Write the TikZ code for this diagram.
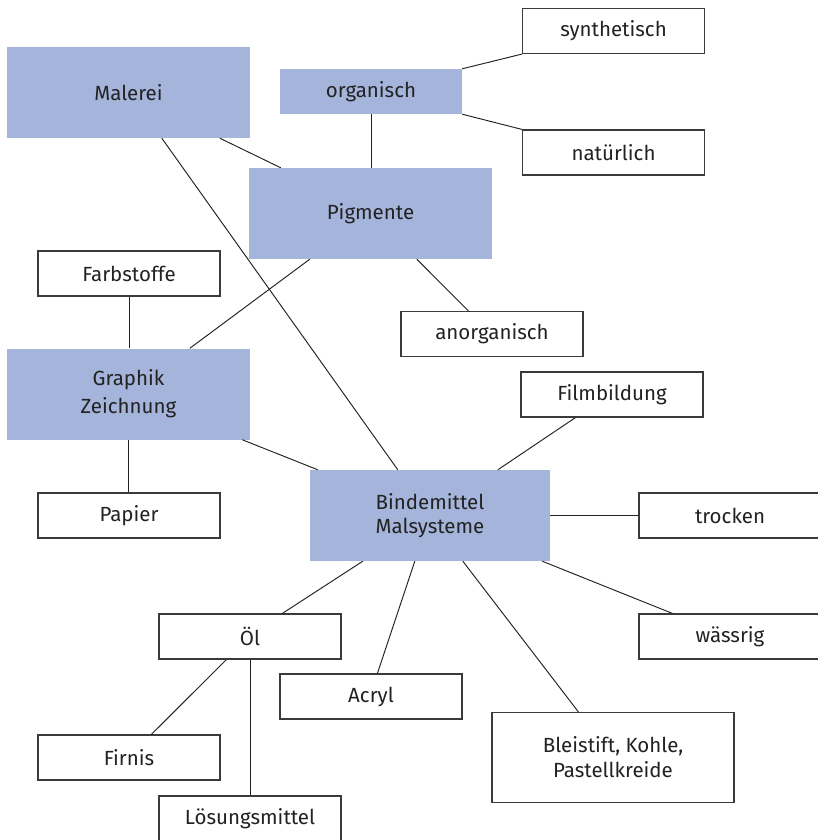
\documentclass[tikz,border=0pt]{standalone}
\usepackage{fontspec}
\setmainfont{Fira Sans}
\definecolor{boxblue}{HTML}{A4B4DA}
\definecolor{txt}{HTML}{222222}
\definecolor{edge}{HTML}{3A3A3A}
\begin{document}
\begin{tikzpicture}[x=1pt,y=-1pt,
  base/.style={rectangle,inner sep=0pt,align=center,text=txt,font=\fontsize{20.5}{24}\selectfont},
  bluebox/.style={base,fill=boxblue,minimum width=243pt,minimum height=91pt},
  orgbox/.style={base,fill=boxblue,minimum width=182pt,minimum height=45pt},
  whitebox/.style={base,draw=edge,line width=1.2pt,fill=white,minimum width=182pt,minimum height=45pt},
  bigwhite/.style={base,draw=edge,line width=1.2pt,fill=white,minimum width=242pt,minimum height=90pt},
  link/.style={draw=txt,line width=0.95pt}]
\useasboundingbox[fill=white] (0,0) rectangle (818,840);
% nodes
\node[bluebox] (mal) at (128.5,92.5) {Malerei};
\node[orgbox]  (org) at (371,91.5) {organisch};
\node[bluebox] (pig) at (370.5,213.5) {Pigmente};
\node[bluebox,font=\fontsize{20.5}{28}\selectfont] (gra) at (128.5,394) {Graphik\\Zeichnung};
\node[bluebox,minimum width=240pt] (bind) at (430,515.5) {Bindemittel\\Malsysteme};
\node[whitebox] (syn) at (613.5,31) {synthetisch};
\node[whitebox] (nat) at (613.5,152.5) {natürlich};
\node[whitebox] (far) at (129,273.5) {Farbstoffe};
\node[whitebox] (ano) at (492,334) {anorganisch};
\node[whitebox] (fil) at (612,394.5) {Filmbildung};
\node[whitebox] (pap) at (129,515.5) {Papier};
\node[whitebox] (tro) at (730,515.5) {trocken};
\node[whitebox] (oel) at (250,636.5) {Öl};
\node[whitebox] (was) at (730,636.5) {wässrig};
\node[whitebox] (acr) at (371,696.5) {Acryl};
\node[whitebox] (fir) at (129,757.5) {Firnis};
\node[bigwhite,font=\fontsize{20.5}{25}\selectfont] (ble) at (613,757.5) {Bleistift, Kohle,\\Pastellkreide};
\node[whitebox] (los) at (250,818.5) {Lösungsmittel};
% connectors
\path[link] ([xshift=155pt]mal.south west) -- ([xshift=88pt]bind.north west);
\path[link] ([xshift=213pt]mal.south west) -- ([xshift=32pt]pig.north west);
\path[link] (org.south) -- (org.south |- pig.north);
\path[link] (org.north east) -- (syn.south west);
\path[link] (org.south east) -- (nat.north west);
\path[link] ([xshift=61pt]pig.south west) -- ([xshift=183pt]gra.north west);
\path[link] ([xshift=168pt]pig.south west) -- ([xshift=68pt]ano.north west);
\path[link] (far.south) -- (far.south |- gra.north);
\path[link] (gra.south) -- (gra.south |- pap.north);
\path[link] ([xshift=-8pt]gra.south east) -- ([xshift=8pt]bind.north west);
\path[link] ([xshift=188pt]bind.north west) -- ([xshift=55pt]fil.south west);
\path[link] (bind.east) -- (tro.west);
\path[link] ([xshift=-8pt]bind.south east) -- ([xshift=34pt]was.north west);
\path[link] ([xshift=53pt]bind.south west) -- ([xshift=124pt]oel.north west);
\path[link] ([xshift=105pt]bind.south west) -- ([xshift=98pt]acr.north west);
\path[link] ([xshift=153pt]bind.south west) -- ([xshift=87pt]ble.north west);
\path[link] ([xshift=68pt]oel.south west) -- ([xshift=114pt]fir.north west);
\path[link] (oel.south) -- (oel.south |- los.north);
\end{tikzpicture}
\end{document}
